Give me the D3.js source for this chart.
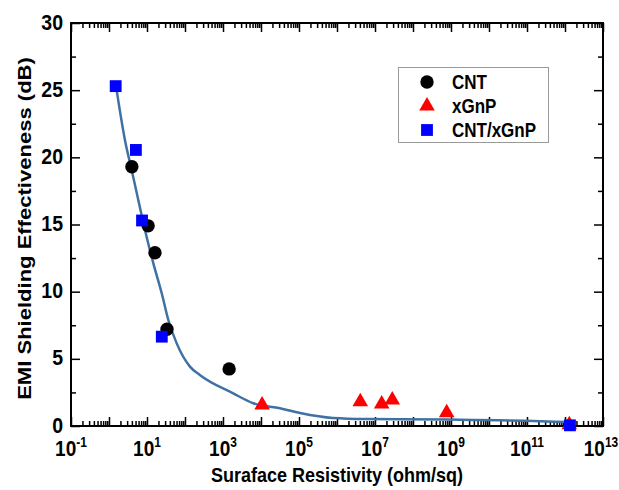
<!DOCTYPE html>
<html>
<head>
<meta charset="utf-8">
<script src="https://cdn.jsdelivr.net/npm/d3@7"></script>
<style>
  body { margin: 0; background: #fff; }
  svg { display: block; font-family: "Liberation Sans", Arial, sans-serif; font-weight: bold; }
</style>
</head>
<body>
<svg id="chart" width="619" height="490"></svg>
<script>
// data (resistivity in ohm/sq, SE in dB)
const cnt_x = [4.0, 10.7, 16.2, 33.6, 1450];
const cnt_y = [19.3, 14.9, 12.9, 7.2, 4.25];

const xgnp_x = [1.07e4, 4.1e6, 1.5e7, 2.85e7, 7.7e8, 1.3e12];
const xgnp_y = [1.56, 1.81, 1.64, 1.94, 0.99, 0.1];

const hybrid_x = [1.5, 5.1, 7.4, 24.5, 1.35e12];
const hybrid_y = [25.3, 20.55, 15.3, 6.65, 0.05];

// fitted trend curve
const fit_x = [1.53, 2.64, 3.95, 5.9, 8.85, 14.7, 24.4, 36.4, 60.5, 135, 245, 1860, 6300, 31600, 1.07e5, 7.8e5, 6.2e6, 7.8e8, 1.12e12, 1.35e12];
const fit_y = [25.3, 21.26, 19.06, 16.83, 14.59, 12.11, 9.88, 7.89, 6.15, 4.42, 3.8, 2.43, 1.69, 1.32, 0.97, 0.6, 0.52, 0.48, 0.3, 0.28];

const x_domain = [1e-1, 1e13];
const y_domain = [0, 30];
const y_ticks = [0, 5, 10, 15, 20, 25, 30];

const legend_items = [
  { name: 'CNT', shape: 'circle', color: '#000000' },
  { name: 'xGnP', shape: 'triangle', color: '#ff0000' },
  { name: 'CNT/xGnP', shape: 'square', color: '#0000ff' }
];

const m = { left: 71, right: 603, top: 23, bottom: 426 };
const stretch = 1.16; // text in the picture is taller than it is wide
const svg = d3.select('#chart');

const x = d3.scaleLog().domain(x_domain).range([m.left, m.right]);
const y = d3.scaleLinear().domain(y_domain).range([m.bottom, m.top]);

// log ticks: decades and 2..9 minors
const decades = d3.range(-1, 14).map(e => Math.pow(10, e));
const minors = [];
d3.range(-1, 13).forEach(e => {
  for (let k = 2; k <= 9; k++) minors.push(k * Math.pow(10, e));
});
const y_minors = d3.range(2.5, 30, 5);

function tick_axis(axis_fn, scale, vals, size, tr) {
  const g = svg.append('g')
    .attr('transform', tr)
    .call(axis_fn(scale).tickValues(vals).tickSize(size).tickFormat(''));
  g.select('.domain').remove();
  g.selectAll('line').attr('stroke', '#000').attr('stroke-width', 1.5);
  return g;
}

// stretched text anchored at (px, py)
function label(parent, px, py, size, anchor) {
  return parent.append('g')
    .attr('transform', `translate(${px},${py}) scale(1,${stretch})`)
    .append('text')
    .attr('text-anchor', anchor)
    .attr('font-size', size)
    .attr('fill', '#000');
}

// bottom / top
tick_axis(d3.axisBottom, x, decades, -9, `translate(0,${m.bottom})`);
tick_axis(d3.axisBottom, x, minors, -5, `translate(0,${m.bottom})`);
tick_axis(d3.axisTop, x, decades, -9, `translate(0,${m.top})`);
tick_axis(d3.axisTop, x, minors, -5, `translate(0,${m.top})`);
// left / right
tick_axis(d3.axisLeft, y, y_ticks, -9, `translate(${m.left},0)`);
tick_axis(d3.axisLeft, y, y_minors, -5, `translate(${m.left},0)`);
tick_axis(d3.axisRight, y, y_ticks, -9, `translate(${m.right},0)`);
tick_axis(d3.axisRight, y, y_minors, -5, `translate(${m.right},0)`);

// frame
svg.append('rect')
  .attr('x', m.left).attr('y', m.top)
  .attr('width', m.right - m.left).attr('height', m.bottom - m.top)
  .attr('fill', 'none').attr('stroke', '#000').attr('stroke-width', 2);

// x labels: 10^n for odd n
const x_labels = decades.filter((d, i) => i % 2 === 0);
const labels_g = svg.append('g');
x_labels.forEach((d, i) => {
  // last label nudged so it stays inside the window
  const nudge = i === x_labels.length - 1 ? -2 : 0;
  const t = label(labels_g, x(d) + nudge, 456, 19, 'middle');
  t.append('tspan').text('10');
  t.append('tspan').attr('dy', -8).attr('font-size', 12).text(Math.round(Math.log10(d)));
});

// y labels
y_ticks.forEach(d => {
  label(labels_g, 63, y(d) + 6.5, 19.5, 'end').text(d);
});

// axis titles
label(svg, (m.left + m.right) / 2, 482, 18, 'middle')
  .text('Suraface Resistivity (ohm/sq)');

svg.append('g')
  .attr('transform', `translate(31,${(m.top + m.bottom) / 2 + 4}) rotate(-90) scale(${stretch},1)`)
  .append('text')
  .attr('text-anchor', 'middle')
  .attr('font-size', 19)
  .text('EMI Shielding Effectiveness (dB)');

// fit curve
const fit = fit_x.map((v, i) => [v, fit_y[i]]);
svg.append('path')
  .datum(fit)
  .attr('fill', 'none')
  .attr('stroke', '#3f72a3')
  .attr('stroke-width', 2.5)
  .attr('d', d3.line().x(d => x(d[0])).y(d => y(d[1])).curve(d3.curveMonotoneX));

const sym = {
  circle: d3.symbol().type(d3.symbolCircle).size(140),
  triangle: d3.symbol().type(d3.symbolTriangle).size(105),
  square: d3.symbol().type(d3.symbolSquare).size(140)
};

function draw_points(xs, ys, shape, color) {
  svg.append('g').selectAll('path')
    .data(xs.map((v, i) => [v, ys[i]])).enter().append('path')
    .attr('transform', d => `translate(${x(d[0])},${y(d[1])})`)
    .attr('d', sym[shape]())
    .attr('fill', color);
}

draw_points(cnt_x, cnt_y, 'circle', '#000000');
draw_points(xgnp_x, xgnp_y, 'triangle', '#ff0000');
draw_points(hybrid_x, hybrid_y, 'square', '#0000ff');

// legend
const lg = svg.append('g');
lg.append('rect')
  .attr('x', 398.5).attr('y', 67.5)
  .attr('width', 150).attr('height', 75)
  .attr('fill', '#fff').attr('stroke', '#999').attr('stroke-width', 1);
legend_items.forEach((it, i) => {
  const cy = 82 + i * 24;
  lg.append('path')
    .attr('transform', `translate(427,${cy})`)
    .attr('d', sym[it.shape]())
    .attr('fill', it.color);
  label(lg, 452, cy + 7, 17, 'start').text(it.name);
});
</script>
</body>
</html>
